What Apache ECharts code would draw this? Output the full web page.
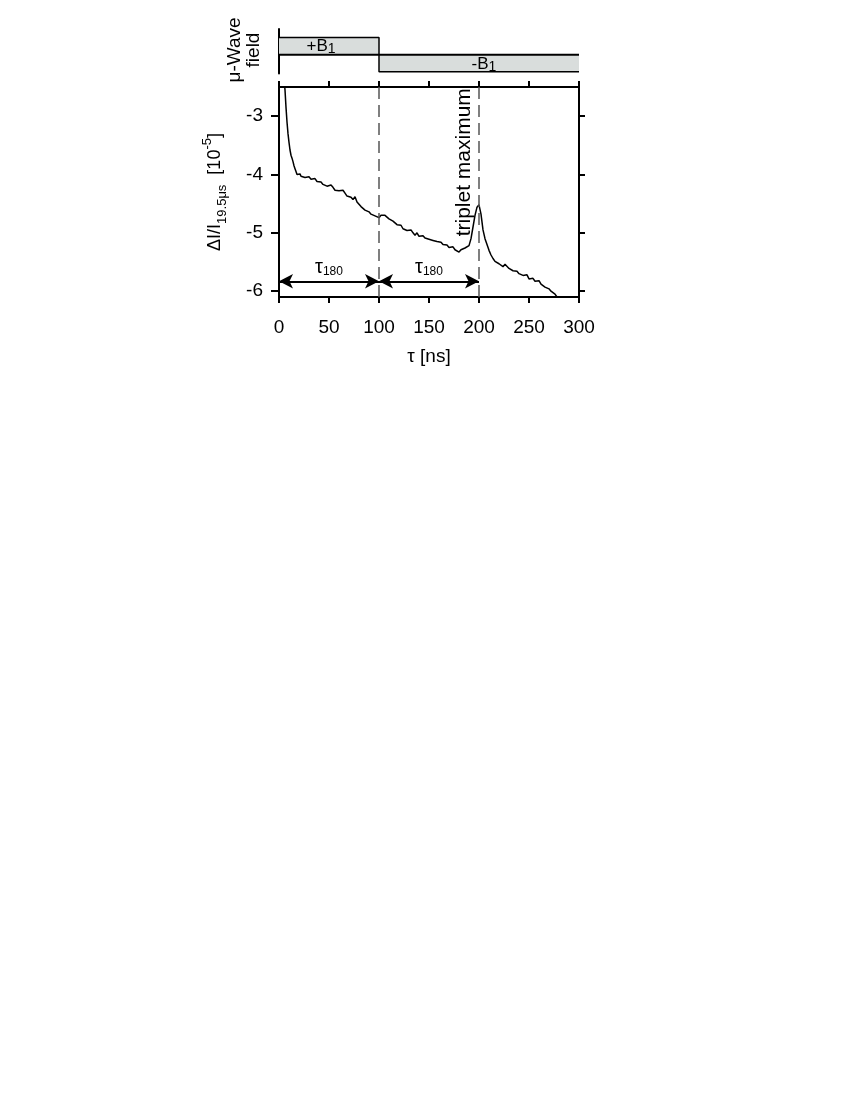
<!DOCTYPE html>
<html>
<head>
<meta charset="utf-8">
<script src="https://cdn.jsdelivr.net/npm/echarts@6/dist/echarts.min.js"></script>
<style>
html,body{margin:0;padding:0;background:#fff;}
#chart{width:850px;height:1100px;}
</style>
</head>
<body>
<div id="chart"></div>
<script>
// ---- data ----
const tau = [5,6,7,8,9,10,11,12,13,14,15,16,17,18,19,20,21,22,24,26,28,30,32,34,36,38,40,42,44,46,48,50,52,54,56,58,60,62,64,66,68,70,72,74,76,78,80,82,84,86,88,90,92,94,96,98,100,102,104,106,108,110,112,114,116,118,120,122,124,126,128,130,132,134,136,138,140,142,144,146,148,150,152,154,156,158,160,162,164,166,168,170,172,174,176,178,180,182,184,186,188,190,192,194,196,198,200,202,204,206,208,210,212,214,216,218,220,222,224,226,228,230,232,234,236,238,240,242,244,246,248,250,252,254,256,258,260,262,264,266,268,270,272,274,276,278,280,284,288,290,292];
const signal = [-2.35,-2.55,-2.85,-3.1,-3.3,-3.45,-3.58,-3.67,-3.72,-3.78,-3.85,-3.9,-3.95,-4.0,-4.01,-3.97,-3.99,
  -4.03,-4.01,-4.05,-4.06,-4.04,-4.08,-4.1,-4.07,-4.12,-4.11,-4.13,-4.17,-4.15,-4.2,-4.21,-4.18,-4.22,-4.27,-4.25,-4.28,-4.31,-4.27,-4.32,-4.37,-4.35,-4.39,-4.43,-4.38,-4.47,-4.51,-4.55,-4.53,-4.61,-4.6,-4.64,-4.68,-4.66,-4.71,-4.73,
  -4.74,-4.7,-4.69,-4.7,-4.72,-4.76,-4.78,-4.8,-4.79,-4.86,-4.88,-4.87,-4.93,-4.9,-4.96,-4.97,-4.95,-5.0,-5.04,-5.0,-5.06,-5.03,-5.05,-5.09,-5.07,-5.11,-5.08,-5.13,-5.12,-5.15,-5.17,-5.16,-5.2,-5.22,-5.21,-5.25,-5.26,-5.24,-5.29,-5.31,-5.33,-5.29,-5.32,-5.26,-5.28,-5.22,
  -5.1,-4.9,-4.7,-4.56,-4.52,-4.68,-4.95,-5.1,-5.2,
  -5.3,-5.38,-5.44,-5.49,-5.46,-5.53,-5.51,-5.58,-5.54,-5.56,-5.61,-5.6,-5.65,-5.62,-5.66,-5.7,-5.69,-5.73,-5.76,-5.72,-5.79,-5.8,-5.78,-5.83,-5.86,-5.82,-5.88,-5.9,-5.93,-5.91,-5.96,-6.0,-5.99,-6.05,-6.1,-6.14,-6.13,-6.1,-6.09,-6.13];
const xTicks = [0,50,100,150,200,250,300];
const yTicks = [-6,-5,-4,-3];
const fieldTimes = [0,100,100,300];
const fieldLevels = [1,1,-1,-1];
const pulseEdges = [100,200];
const arrowY = -5.83;
const FONT = 'Liberation Sans';

const chart = echarts.init(document.getElementById('chart'), null, {renderer:'canvas'});
const axisLineStyle = {color:'#000', width:2};

const option = {
  backgroundColor:'#fff',
  animation:false,
  grid:[
    {left:279, right:271, top:29, bottom:1026.5},
    {left:279, right:271, top:87, bottom:803}
  ],
  xAxis:[
    {gridIndex:0, type:'value', min:0, max:300, show:false},
    {gridIndex:1, type:'value', min:0, max:300, interval:50, position:'bottom',
      axisLine:{show:true, onZero:false, lineStyle:axisLineStyle},
      axisTick:{show:true, length:6, lineStyle:{color:'#000', width:2}},
      axisLabel:{color:'#000', fontSize:19, fontFamily:FONT, margin:21},
      splitLine:{show:false},
      name:'τ [ns]', nameLocation:'middle', nameGap:50,
      nameTextStyle:{color:'#000', fontSize:19, fontFamily:FONT}
    },
    {gridIndex:1, type:'value', min:0, max:300, interval:50, position:'top',
      axisLine:{show:true, onZero:false, lineStyle:axisLineStyle},
      axisTick:{show:true, length:6, lineStyle:{color:'#000', width:2}},
      axisLabel:{show:false}, splitLine:{show:false}
    }
  ],
  yAxis:[
    {gridIndex:0, type:'value', min:-1.1, max:1.5,
      axisLine:{show:true, onZero:false, lineStyle:axisLineStyle},
      axisTick:{show:false}, axisLabel:{show:false}, splitLine:{show:false}
    },
    {gridIndex:1, type:'value', min:-6.1, max:-2.5, position:'left',
      axisLine:{show:true, onZero:false, lineStyle:axisLineStyle},
      axisTick:{show:true, length:8, customValues:yTicks, lineStyle:{color:'#000', width:2}},
      axisLabel:{color:'#000', fontSize:19, fontFamily:FONT, margin:16, customValues:yTicks},
      splitLine:{show:false},
      name:'{a|ΔI/I}{sub|19.5μs}{a|  [10}{sup|-5}{a|]}',
      nameLocation:'middle', nameGap:50, nameRotate:90,
      nameTextStyle:{color:'#000', fontFamily:FONT, fontSize:18,
        rich:{
          a:{fontSize:18, fontFamily:FONT, color:'#000', lineHeight:28, verticalAlign:'middle'},
          sub:{fontSize:13, fontFamily:FONT, color:'#000', lineHeight:28, verticalAlign:'bottom', padding:[10,0,0,0]},
          sup:{fontSize:13, fontFamily:FONT, color:'#000', lineHeight:28, verticalAlign:'top', padding:[0,0,10,0]}
        }
      }
    },
    {gridIndex:1, type:'value', min:-6.1, max:-2.5, position:'right',
      axisLine:{show:true, onZero:false, lineStyle:axisLineStyle},
      axisTick:{show:true, length:6, customValues:yTicks, lineStyle:{color:'#000', width:2}},
      axisLabel:{show:false}, splitLine:{show:false}
    }
  ],
  graphic:[
    {type:'text', x:244, y:50, rotation:Math.PI/2,
      style:{text:'μ-Wave\nfield', font:'19px "Liberation Sans"', fill:'#000',
        align:'center', verticalAlign:'middle', lineHeight:19}}
  ],
  series:[
    {
      name:'field', type:'line', xAxisIndex:0, yAxisIndex:0,
      data:fieldTimes.map((t,i)=>[t, fieldLevels[i]]),
      showSymbol:false, symbol:'none',
      lineStyle:{color:'#000', width:1.5},
      areaStyle:{color:'#d9dddc', opacity:1, origin:0},
      markPoint:{
        symbol:'circle', symbolSize:0, silent:true,
        label:{show:true, position:'inside', color:'#000', fontFamily:FONT,
          rich:{a:{fontSize:17, fontFamily:FONT, color:'#000'}, s:{fontSize:14, fontFamily:FONT, color:'#000', padding:[6,0,0,0]}}},
        data:[
          {coord:[42,0.5], label:{formatter:'{a|+B}{s|1}'}},
          {coord:[205,-0.55], label:{formatter:'{a|-B}{s|1}'}}
        ]
      }
    },
    {
      name:'baseline', type:'line', xAxisIndex:0, yAxisIndex:0,
      data:[[0,0],[300,0]], showSymbol:false, symbol:'none',
      lineStyle:{color:'#000', width:2}
    },
    {
      name:'signal', type:'line', xAxisIndex:1, yAxisIndex:1,
      data:tau.map((t,i)=>[t, signal[i]]),
      showSymbol:false, symbol:'none', clip:true,
      lineStyle:{color:'#000', width:1.5},
      markLine:{
        symbol:'none', silent:true,
        label:{show:false},
        lineStyle:{color:'#555', width:1.5, type:[12,6]},
        data:pulseEdges.map(v=>({xAxis:v}))
      },
      markPoint:{
        symbol:'circle', symbolSize:0, silent:true,
        data:[{coord:[185,-3.79], label:{show:true, formatter:'triplet maximum', rotate:90,
          position:'inside', color:'#000', fontSize:21, fontFamily:FONT}}]
      }
    },
    {
      name:'arrows', type:'line', xAxisIndex:1, yAxisIndex:1, data:[],
      markLine:{
        silent:true, symbol:['arrow','arrow'], symbolSize:[11,14],
        lineStyle:{color:'#000', width:2, type:'solid'},
        label:{show:true, position:'middle', distance:4, formatter:'{t|τ}{s|180}',
          rich:{t:{fontSize:20, fontFamily:FONT, color:'#000'}, s:{fontSize:12, fontFamily:FONT, color:'#000', padding:[8,0,0,0]}}},
        data:[
          [{coord:[0,arrowY]},{coord:[100,arrowY]}],
          [{coord:[100,arrowY]},{coord:[200,arrowY]}]
        ]
      }
    }
  ]
};
chart.setOption(option);
</script>
</body>
</html>
